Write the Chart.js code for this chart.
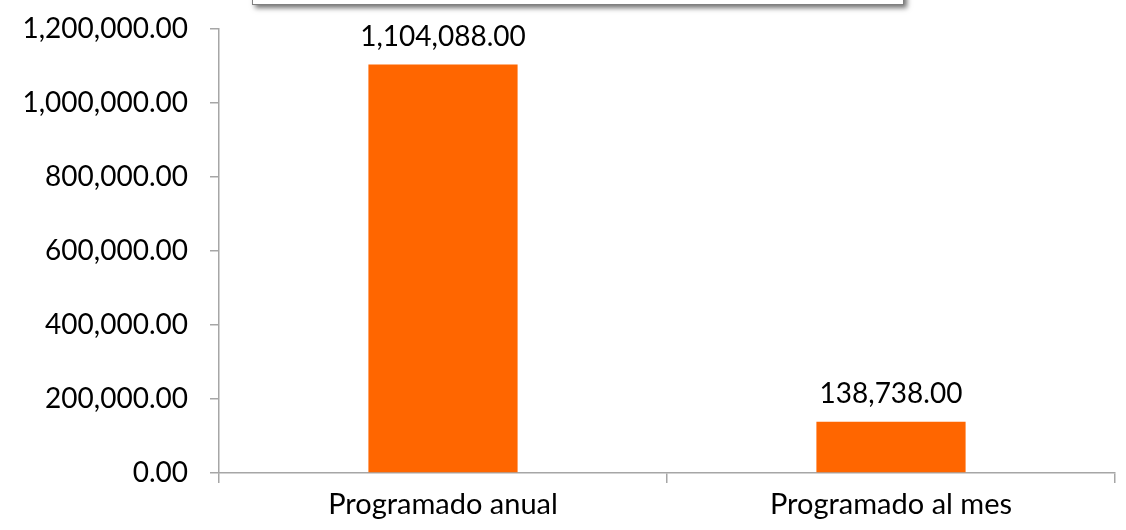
<!DOCTYPE html>
<html>
<head>
<meta charset="utf-8">
<script src="https://cdn.jsdelivr.net/npm/chart.js@4"></script>
<style>
  html, body { margin: 0; padding: 0; background: #fff; overflow: hidden; }
  #wrap { position: relative; width: 1126px; height: 530px; }
  #titleBox {
    position: absolute; left: 252px; top: -20px; width: 650px; height: 23px;
    background: #fff; border: 1px solid #808080;
    box-shadow: 3px 3px 5px rgba(0,0,0,0.55);
  }
</style>
</head>
<body>
<div id="wrap">
  <canvas id="chart" width="1126" height="530"></canvas>
  <div id="titleBox"></div>
</div>
<script>
const categories = ['Programado anual', 'Programado al mes'];
const values = [1104088, 138738];

// number format like 1,104,088.00
function fmt(v) {
    return v.toLocaleString('en-US', { minimumFractionDigits: 2, maximumFractionDigits: 2 });
}

// draws the value above each bar
const barLabels = {
    id: 'barLabels',
    afterDatasetsDraw(chart) {
        const ctx = chart.ctx;
        const meta = chart.getDatasetMeta(0);
        ctx.save();
        ctx.font = '28px Lato';
        ctx.fillStyle = '#000';
        ctx.textAlign = 'center';
        ctx.textBaseline = 'middle';
        meta.data.forEach((bar, i) => {
            ctx.fillText(fmt(values[i]), bar.x, bar.y - 28);
        });
        ctx.restore();
    }
};

const ctx = document.getElementById('chart');
new Chart(ctx, {
    type: 'bar',
    data: {
        labels: categories,
        datasets: [{
            data: values,
            backgroundColor: '#FF6600',
            borderWidth: 0,
            categoryPercentage: 1,
            barPercentage: 0.333
        }]
    },
    options: {
        responsive: false,
        animation: false,
        layout: { padding: { top: 29, right: 11, left: 0, bottom: 0 } },
        plugins: { legend: { display: false }, tooltip: { enabled: false } },
        scales: {
            x: {
                offset: true,
                grid: { offset: true, drawOnChartArea: false, drawTicks: true, tickLength: 10, color: '#a6a6a6', lineWidth: 1.5 },
                border: { color: '#a6a6a6', width: 1.5 },
                ticks: { font: { family: 'Lato', size: 29 }, color: '#000', padding: 4 },
                afterFit(scale) {
                    scale.height = 57;
                    scale.paddingLeft = 0;
                    scale.paddingRight = 0;
                }
            },
            y: {
                min: 0,
                max: 1200000,
                ticks: {
                    stepSize: 200000,
                    font: { family: 'Lato', size: 28 },
                    color: '#000',
                    padding: 22,
                    callback: v => fmt(v)
                },
                grid: { drawOnChartArea: false, drawTicks: true, tickLength: 9, color: '#a6a6a6', lineWidth: 1.5 },
                border: { color: '#a6a6a6', width: 1.5 },
                afterFit(scale) {
                    scale.width = 219;
                    scale.paddingTop = 0;
                    scale.paddingBottom = 0;
                }
            }
        }
    },
    plugins: [barLabels]
});
</script>
</body>
</html>
